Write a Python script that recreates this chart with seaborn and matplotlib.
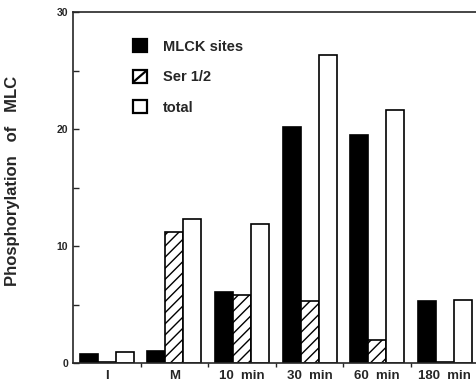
import matplotlib
matplotlib.use("Agg")
import matplotlib.pyplot as plt
import seaborn as sns
import pandas as pd
from matplotlib.patches import Patch, Rectangle
from matplotlib.lines import Line2D
from matplotlib.legend_handler import HandlerBase

sns.set_style("ticks")
plt.rcParams['font.family'] = ['Liberation Sans', 'DejaVu Sans']
plt.rcParams['font.weight'] = 'bold'
plt.rcParams['hatch.linewidth'] = 1.0

groups = ["I", "M", "10  min", "30  min", "60  min", "180  min"]
series = ["MLCK sites", "Ser 1/2", "total"]
mlck = [0.8, 1.0, 6.1, 20.2, 19.5, 5.3]
ser = [0.1, 11.2, 5.8, 5.3, 2.0, 0.1]
total = [0.9, 12.3, 11.9, 26.3, 21.6, 5.4]

rows = []
for name, vals in zip(series, [mlck, ser, total]):
    for g, v in zip(groups, vals):
        rows.append({"group": g, "series": name, "value": v})
df = pd.DataFrame(rows)

fig = plt.figure(figsize=(4.77, 3.87), dpi=100)
ax = fig.add_axes([73/477, 24/387, 1 - 73/477 + 0.002, 351/387])

facecolors = {"MLCK sites": "black", "Ser 1/2": "white", "total": "white"}
sns.barplot(data=df, x="group", y="value", hue="series", order=groups,
            hue_order=series, palette=facecolors, edgecolor="black",
            linewidth=1.2, ax=ax, legend=False, saturation=1, width=0.8)

for cont, name in zip(ax.containers, series):
    for bar in cont:
        bar.set_edgecolor("black")
        if name == "Ser 1/2":
            bar.set_hatch("///")

ax.set_xlim(-0.5, 5.49)
ax.set_ylim(0, 30)
ax.set_yticks([0, 10, 20, 30])
ax.set_yticks([5, 15, 25], minor=True)
ax.tick_params(axis='y', which='both', direction='in', length=4, width=1, labelsize=7.5)
ax.set_yticklabels(["0", "10", "20", "30"], fontweight='bold')

ax.set_xticks(range(len(groups)))
ax.set_xticklabels(groups, fontweight='bold', fontsize=9.5)
ax.tick_params(axis='x', which='major', length=0, pad=5)
ax.set_xticks([0.5, 1.5, 2.5, 3.5, 4.5], minor=True)
ax.tick_params(axis='x', which='minor', direction='out', length=3, width=1)

ax.set_xlabel("")
ax.set_ylabel("Phosphorylation   of   MLC", fontsize=12, fontweight='bold', labelpad=20)
ax.yaxis.set_label_coords(-0.13, 0.52)

for s in ["left", "bottom", "top"]:
    ax.spines[s].set_linewidth(1.2)
    ax.spines[s].set_visible(True)
ax.spines["right"].set_visible(False)


class SquareHandler(HandlerBase):
    def __init__(self, face, diag=False):
        super().__init__()
        self.face = face
        self.diag = diag

    def create_artists(self, legend, orig_handle, xdescent, ydescent,
                       width, height, fontsize, trans):
        r = Rectangle((-xdescent, -ydescent), width, height, facecolor=self.face,
                      edgecolor="black", linewidth=1.6, transform=trans)
        arts = [r]
        if self.diag:
            ln = Line2D([-xdescent + 1, -xdescent + width - 1],
                        [-ydescent + 1, -ydescent + height - 1],
                        color="black", linewidth=1.6, transform=trans)
            arts.append(ln)
        return arts


handles = [Patch(facecolor="black"), Patch(facecolor="white", hatch="/"),
           Patch(facecolor="white")]
hmap = {handles[0]: SquareHandler("black"),
        handles[1]: SquareHandler("white", diag=True),
        handles[2]: SquareHandler("white")}
leg = ax.legend(handles, series, loc="upper left", bbox_to_anchor=(0.115, 0.96),
                frameon=False, handlelength=1.0, handleheight=1.0,
                labelspacing=1.1, handletextpad=1.1, handler_map=hmap,
                prop={'weight': 'bold', 'size': 10.5})

fig.savefig("out.png", dpi=100)
